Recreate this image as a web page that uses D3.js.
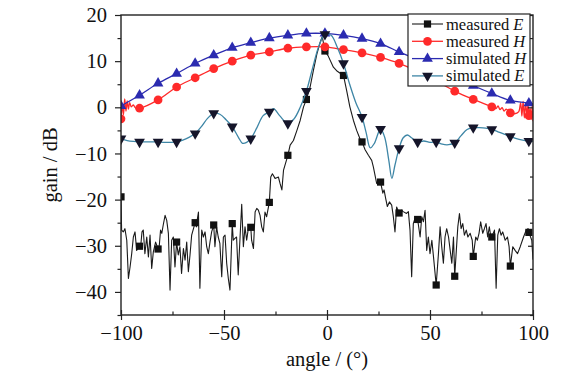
<!DOCTYPE html>
<html>
<head>
<meta charset="utf-8">
<script src="https://cdn.jsdelivr.net/npm/d3@7"></script>
<style>
body { margin: 0; background: #fff; }
svg { display: block; font-family: "Liberation Serif", "Times New Roman", serif; }
</style>
</head>
<body>
<svg id="chart" width="583" height="379"></svg>
<script>
// angles where the symbols sit (every 9 deg)
var markAngles = [-100, -91, -82, -73, -64, -55, -46, -37, -28, -19, -10, -1, 8, 17, 26, 35, 44, 53, 62, 71, 80, 89, 98];

var xTicks = [-100, -50, 0, 50, 100];
var xMinor = [-75, -25, 25, 75];
var yTicks = [20, 10, 0, -10, -20, -30, -40];
var yMinor = [15, 5, -5, -15, -25, -35, -45];

// measured E (noisy)
var measEAngles = [-100, -99.7, -98.9, -98.1, -97.2, -96.4, -95.6, -94.8, -94, -93.2, -92.4, -91, -90.4, -89.8, -89.2, -88.4, -87.5, -86.7, -85.9, -85.1, -84.3, -83.2, -82,
  -81.4, -80.8, -80.2, -79.5, -78.6, -77.8, -77, -76.2, -75.4, -74.6, -73.8, -73, -72.2, -71.4, -70.6, -69.7, -68.9, -68.1, -67.3, -66.5, -65.7, -64,
  -63.4, -62.9, -62.4, -61.7, -60.8, -60, -59.2, -58.4, -57.6, -56.8, -56, -55, -54.4, -53.6, -52.8, -52, -51.1, -50.3, -49.5, -48.7, -47.9, -47.1, -46,
  -45.5, -44.7, -43.9, -43.1, -42.2, -41.4, -40.6, -39.8, -39, -38.2, -37, -36.6, -35.7, -34.9, -34.1, -33.3, -32.5, -31.7, -30.9, -30.1, -29.3, -28,
  -27.3, -26.5, -25.2, -23.6, -22.8, -21.9, -21.1, -19, -17.9, -16.3, -14.6, -13, -11.4, -10, -8.2, -6.6, -4.9, -3.3, -2.3, -1,
  0.5, 3.1, 5, 8, 9.5, 11.1, 12.8, 14.4, 16, 17, 18.5, 20.1, 21.7, 22.5, 24.1, 26, 27.1, 27.7, 28.5, 29.3, 30.3, 31.4, 32.2, 33, 33.8, 35,
  36.2, 37, 38.6, 39.5, 40.3, 41.1, 41.9, 42.7, 44, 45.2, 46, 46.8, 47.6, 48.4, 49.2, 50, 50.9, 51.7, 53, 54.1, 54.9, 55.7, 56.5, 57.3, 58.1, 59, 59.8, 60.6, 61.4, 62,
  63.5, 64.3, 65.1, 65.9, 66.7, 67.6, 68.4, 69.5, 70.5, 71, 72.2, 73, 73.8, 74.6, 75.6, 76.4, 77.2, 78, 78.8, 79.4, 80, 81.3, 82.1, 82.9, 83.7, 84.5, 85.3,
  86.5, 87.6, 88.4, 89, 90.2, 91.3, 92.5, 93.8, 95.4, 96.7, 97.6, 98, 99.4, 100];
var measEValues = [-19.4, -26.6, -27.0, -26.3, -28.8, -37.1, -34.6, -31.7, -28.1, -27.0, -31.0, -30.1, -29.9, -27.0, -26.6, -31.7, -28.1, -32.4, -27.7, -34.9, -31.3, -29.2, -30.7,
  -29.9, -26.6, -27.3, -25.5, -23.4, -24.5, -27.3, -39.6, -28.8, -28.1, -34.6, -29.2, -32.0, -30.2, -36.0, -30.6, -33.1, -29.2, -35.6, -32.0, -27.7, -25.0,
  -25.9, -24.1, -22.7, -39.2, -26.6, -28.1, -27.0, -30.2, -31.7, -29.2, -27.0, -25.5, -30.2, -25.9, -28.1, -29.5, -36.7, -28.1, -27.7, -33.8, -37.1, -39.6, -25.2,
  -28.8, -28.4, -28.1, -36.3, -28.1, -21.0, -30.2, -25.9, -28.8, -26.3, -26.0, -28.8, -30.6, -22.7, -21.9, -22.3, -23.4, -25.9, -27.0, -22.7, -23.7, -20.6,
  -15.1, -14.4, -15.4, -15.1, -16.5, -17.9, -13.6, -10.4, -8.2, -7.2, -5.0, -2.8, 0.1, 1.7, 4.4, 8.0, 11.6, 14.1, 15.3, 12.2,
  11.2, 8.7, 7.8, 6.9, 3.7, 0.1, -2.8, -5.0, -6.8, -7.5, -9.2, -10.4, -11.5, -12.9, -16.5, -16.2, -18.6, -17.9, -19.8, -21.5, -20.5, -21.2, -23.7, -27.0, -21.6, -22.9,
  -22.3, -22.6, -23.0, -22.6, -26.6, -36.7, -25.2, -24.1, -24.3, -28.1, -23.7, -24.8, -22.3, -31.0, -28.1, -31.7, -28.8, -32.4, -38.5, -31.7, -25.9, -30.2, -33.8, -28.1, -26.3, -28.1, -31.0, -33.8, -28.1, -36.6,
  -25.9, -23.0, -26.3, -25.2, -27.7, -26.6, -28.1, -27.3, -28.8, -32.3, -28.1, -28.8, -27.3, -24.8, -27.3, -26.3, -25.2, -28.1, -25.9, -27.7, -28.1, -26.6, -39.2, -27.7, -26.3, -27.7, -27.0,
  -28.8, -28.1, -30.2, -34.4, -30.2, -31.0, -31.7, -30.2, -28.1, -26.6, -26.3, -27.1, -28.8, -33.0];

// measured H
var measHAngles = [-100, -99.4, -98.8, -98.2, -97.6, -97, -96.4, -95.8, -95, -94, -93, -91, -82, -73, -64, -55, -46, -37, -28, -19, -10, -1, 8, 17, 26, 35, 44, 53, 62, 71, 80,
  82, 83, 84, 85, 86, 87, 89, 91, 93, 94, 94.6, 95.2, 95.8, 96.4, 97, 97.6, 98, 98.6, 99.2, 99.6, 100];
var measHValues = [-2.5, 0.3, -1.6, 1.8, -0.8, 1.4, -0.4, 1.0, 0.1, 0.5, -0.1, -0.2, 1.6, 4.4, 6.4, 8.4, 10.0, 11.3, 12.0, 12.8, 13.1, 13.1, 12.5, 11.8, 10.8, 9.5, 7.7, 5.7, 3.5, 1.7, 0.1,
  -0.3, 0.3, -0.5, -0.1, -0.8, -0.4, -1.2, -1.4, -1.0, 1.0, -1.9, 1.3, -2.3, 1.0, -1.5, 0.6, -1.8, -0.2, -2.6, 0.4, -3.0];

// simulated H
var simHAngles = [-100, -91, -82, -73, -64, -55, -46, -37, -28, -19, -10, -1, 8, 17, 26, 35, 44, 53, 62, 71, 80, 89, 98, 100];
var simHValues = [0.3, 2.6, 5.2, 7.3, 9.5, 11.3, 12.9, 14.0, 15.0, 15.6, 16.0, 16.0, 15.6, 14.9, 13.8, 12.0, 10.3, 8.4, 6.5, 4.7, 3.0, 1.5, 0.9, 0.7];

// simulated E
var simEAngles = [-100, -97, -94, -91, -88, -85, -82, -79, -76, -73, -70, -67, -64, -61, -58, -55, -52, -49, -46, -43, -41, -39, -37, -34, -31, -28, -26, -23, -19, -16, -13, -10,
  -7, -4, -1, 2, 5, 8, 11, 14, 17, 19, 21, 23, 26, 28, 30, 31.5, 33, 35, 37, 39, 41, 44, 47, 50, 53, 56, 59, 62, 65, 68, 71, 74, 77, 80, 83, 86, 89, 92, 95, 98, 100];
var simEValues = [-6.8, -7.2, -7.4, -7.5, -7.5, -7.5, -7.5, -7.6, -7.6, -7.5, -7.1, -6.5, -5.7, -4.2, -2.4, -1.3, -1.5, -2.7, -4.2, -6.5, -7.8, -7.6, -6.8, -4.4, -1.8, -1.0, -0.3, -1.8, -3.5, -2.5, 0.0, 3.5,
  8.5, 13.2, 15.8, 15.6, 13.0, 9.5, 5.0, 1.0, -2.1, -5.5, -8.8, -7.8, -4.7, -6.5, -11.5, -15.4, -12.5, -8.9, -6.6, -6.0, -6.6, -7.5, -7.3, -7.6, -7.5, -8.0, -8.1, -7.7, -6.2, -4.8, -4.4, -4.4, -4.5, -4.8, -5.3, -5.8, -6.3, -6.8, -7.1, -7.3, -7.4];

var svg = d3.select("#chart");

var x = d3.scaleLinear().domain([-100, 100]).range([121, 533]);
var y = d3.scaleLinear().domain([-45, 20]).range([315, 15]);

function pts(angles, values) {
    return angles.map(function (a, i) { return { a: a, v: values[i] }; });
}

var series = [
    { name: "measured ", it: "E", data: pts(measEAngles, measEValues), line: "#1a1a1a", fill: "#111", sym: d3.symbolSquare, size: 52, rot: 0, curve: d3.curveLinear, w: 1.1 },
    { name: "measured ", it: "H", data: pts(measHAngles, measHValues), line: "#ff2a2a", fill: "#ff2a2a", sym: d3.symbolCircle, size: 60, rot: 0, curve: d3.curveCatmullRom.alpha(0.5), w: 1.3 },
    { name: "simulated ", it: "H", data: pts(simHAngles, simHValues), line: "#2b2bb0", fill: "#2b2bb0", sym: d3.symbolTriangle, size: 50, rot: 0, curve: d3.curveCatmullRom.alpha(0.5), w: 1.3 },
    { name: "simulated ", it: "E", data: pts(simEAngles, simEValues), line: "#3e86a6", fill: "#15152a", sym: d3.symbolTriangle, size: 50, rot: 180, curve: d3.curveCatmullRom.alpha(0.5), w: 1.3 }
];

svg.append("clipPath").attr("id", "plotclip")
    .append("rect")
    .attr("x", x(-100)).attr("y", y(20))
    .attr("width", x(100) - x(-100)).attr("height", y(-45) - y(20));

var plot = svg.append("g").attr("clip-path", "url(#plotclip)");

series.forEach(function (s) {
    var line = d3.line()
        .x(function (d) { return x(d.a); })
        .y(function (d) { return y(d.v); })
        .curve(s.curve);

    plot.append("path")
        .datum(s.data)
        .attr("fill", "none")
        .attr("stroke", s.line)
        .attr("stroke-width", s.w)
        .attr("stroke-linejoin", "round")
        .attr("d", line);

    plot.selectAll(null)
        .data(s.data.filter(function (d) { return markAngles.indexOf(d.a) >= 0; }))
        .enter()
        .append("path")
        .attr("transform", function (d) { return "translate(" + x(d.a) + "," + y(d.v) + ") rotate(" + s.rot + ")"; })
        .attr("d", d3.symbol().type(s.sym).size(s.size))
        .attr("fill", s.fill);
});

// frame
svg.append("rect")
    .attr("x", x(-100)).attr("y", y(20))
    .attr("width", x(100) - x(-100)).attr("height", y(-45) - y(20))
    .attr("fill", "none").attr("stroke", "#222").attr("stroke-width", 1.4);

// axes
var fmt = d3.format("d");

svg.append("g").attr("transform", "translate(0," + y(-45) + ")")
    .call(d3.axisBottom(x).tickValues(xTicks).tickFormat(fmt).tickSizeInner(5).tickSizeOuter(0).tickPadding(5));
svg.append("g").attr("transform", "translate(0," + y(-45) + ")")
    .call(d3.axisBottom(x).tickValues(xTicks).tickFormat("").tickSizeInner(-5).tickSizeOuter(0));
svg.append("g").attr("transform", "translate(0," + y(-45) + ")")
    .call(d3.axisBottom(x).tickValues(xMinor).tickFormat("").tickSizeInner(-3.5).tickSizeOuter(0));

svg.append("g").attr("transform", "translate(" + x(-100) + ",0)")
    .call(d3.axisLeft(y).tickValues(yTicks).tickFormat(fmt).tickSizeInner(6).tickSizeOuter(0).tickPadding(8));
svg.append("g").attr("transform", "translate(" + x(-100) + ",0)")
    .call(d3.axisLeft(y).tickValues(yMinor).tickFormat("").tickSizeInner(3.5).tickSizeOuter(0));

// mirrored ticks on the right
svg.append("g").attr("transform", "translate(" + x(100) + ",0)")
    .call(d3.axisLeft(y).tickValues(yTicks).tickFormat("").tickSizeInner(5).tickSizeOuter(0));
svg.append("g").attr("transform", "translate(" + x(100) + ",0)")
    .call(d3.axisLeft(y).tickValues(yMinor).tickFormat("").tickSizeInner(3).tickSizeOuter(0));

svg.selectAll(".domain").remove();
svg.selectAll(".tick line").attr("stroke", "#222").attr("stroke-width", 1.2);
svg.selectAll(".tick text")
    .attr("fill", "#111")
    .style("font-family", "'Liberation Serif', 'Times New Roman', serif")
    .style("font-size", "20.5px");

// axis titles
svg.append("text")
    .attr("x", 327).attr("y", 366)
    .attr("text-anchor", "middle")
    .style("font-size", "20.5px").attr("fill", "#111")
    .text("angle / (°)");

svg.append("text")
    .attr("transform", "translate(57,165) rotate(-90)")
    .attr("text-anchor", "middle")
    .style("font-size", "20.5px").attr("fill", "#111")
    .text("gain / dB");

// legend
var legend = svg.append("g").attr("transform", "translate(408,14)");
legend.append("rect")
    .attr("width", 122).attr("height", 72)
    .attr("fill", "#fff").attr("stroke", "#222").attr("stroke-width", 1.2);

series.forEach(function (s, i) {
    var row = legend.append("g").attr("transform", "translate(0," + (10 + i * 17.3) + ")");
    row.append("line")
        .attr("x1", 4).attr("x2", 35)
        .attr("stroke", s.line).attr("stroke-width", s.w);
    row.append("path")
        .attr("transform", "translate(19.5,0) rotate(" + s.rot + ")")
        .attr("d", d3.symbol().type(s.sym).size(s.size))
        .attr("fill", s.fill);
    var t = row.append("text")
        .attr("x", 38).attr("y", 5.5)
        .style("font-size", "16.5px").attr("fill", "#111");
    t.append("tspan").text(s.name);
    t.append("tspan").style("font-style", "italic").text(s.it);
});
</script>
</body>
</html>
